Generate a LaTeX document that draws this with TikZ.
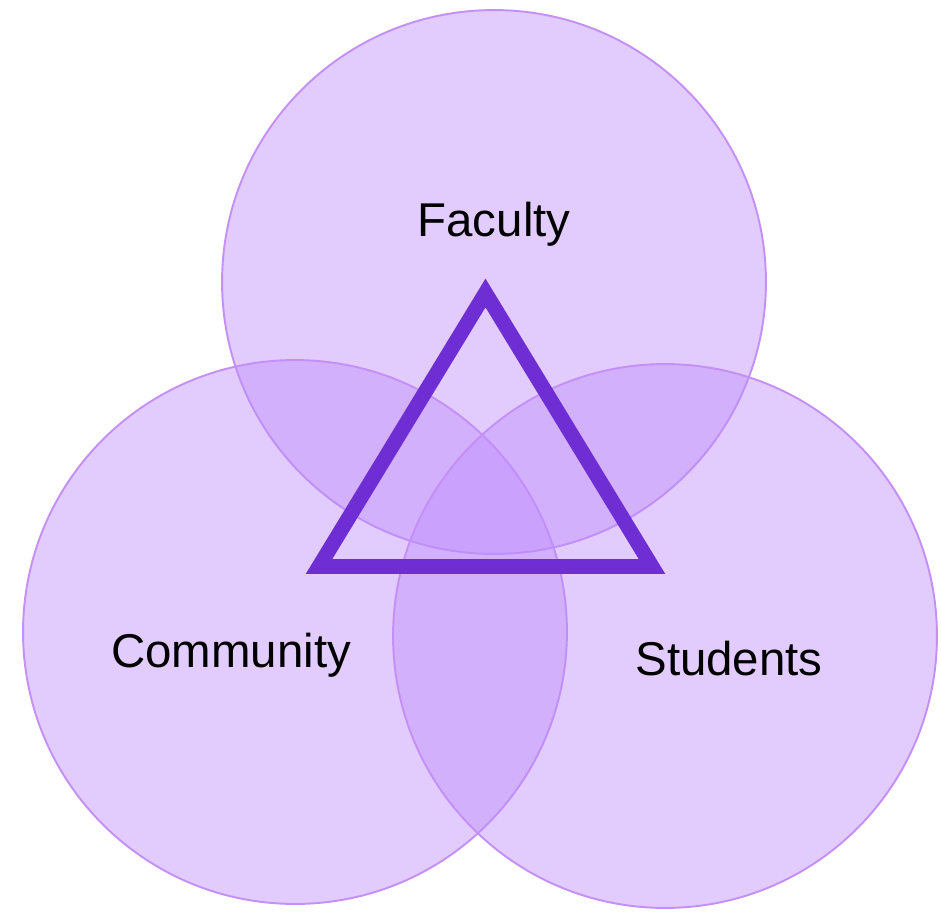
\documentclass[tikz,border=0pt]{standalone}
\usepackage{fontspec}
\setmainfont{Liberation Sans}
\usepackage{tikz}
\definecolor{venn_fill}{RGB}{191,142,251}
\definecolor{venn_edge}{RGB}{196,144,248}
\definecolor{tri_purple}{RGB}{111,45,212}

\begin{document}
\begin{tikzpicture}[x=0.02cm,y=-0.02cm]
    \tikzstyle{venn}=[draw=venn_edge, line width=1.1pt, circle, minimum size=10.88cm, inner sep=0pt, fill=venn_fill, fill opacity=0.45]
    \tikzstyle{label}=[font=\fontsize{27}{32}\selectfont, text=black, inner sep=0pt]
    \useasboundingbox (0,0) rectangle (941,913);

    \node[venn] (fac) at (494,282) {};
    \node[venn] (com) at (295,632) {};
    \node[venn] (stu) at (665,636) {};

    \node[label] (facl) at (494,224) {Faculty};
    \node[label] (coml) at (231,655) {Community};
    \node[label] (stul) at (729,659) {Students};

    \coordinate (top)   at (485.5,293);
    \coordinate (left)  at (319,566.5);
    \coordinate (right) at (652,566.5);
    \draw[tri_purple, line width=8.5pt, line join=miter] (top) -- (left) -- (right) -- cycle;
  \end{tikzpicture}
\end{document}
